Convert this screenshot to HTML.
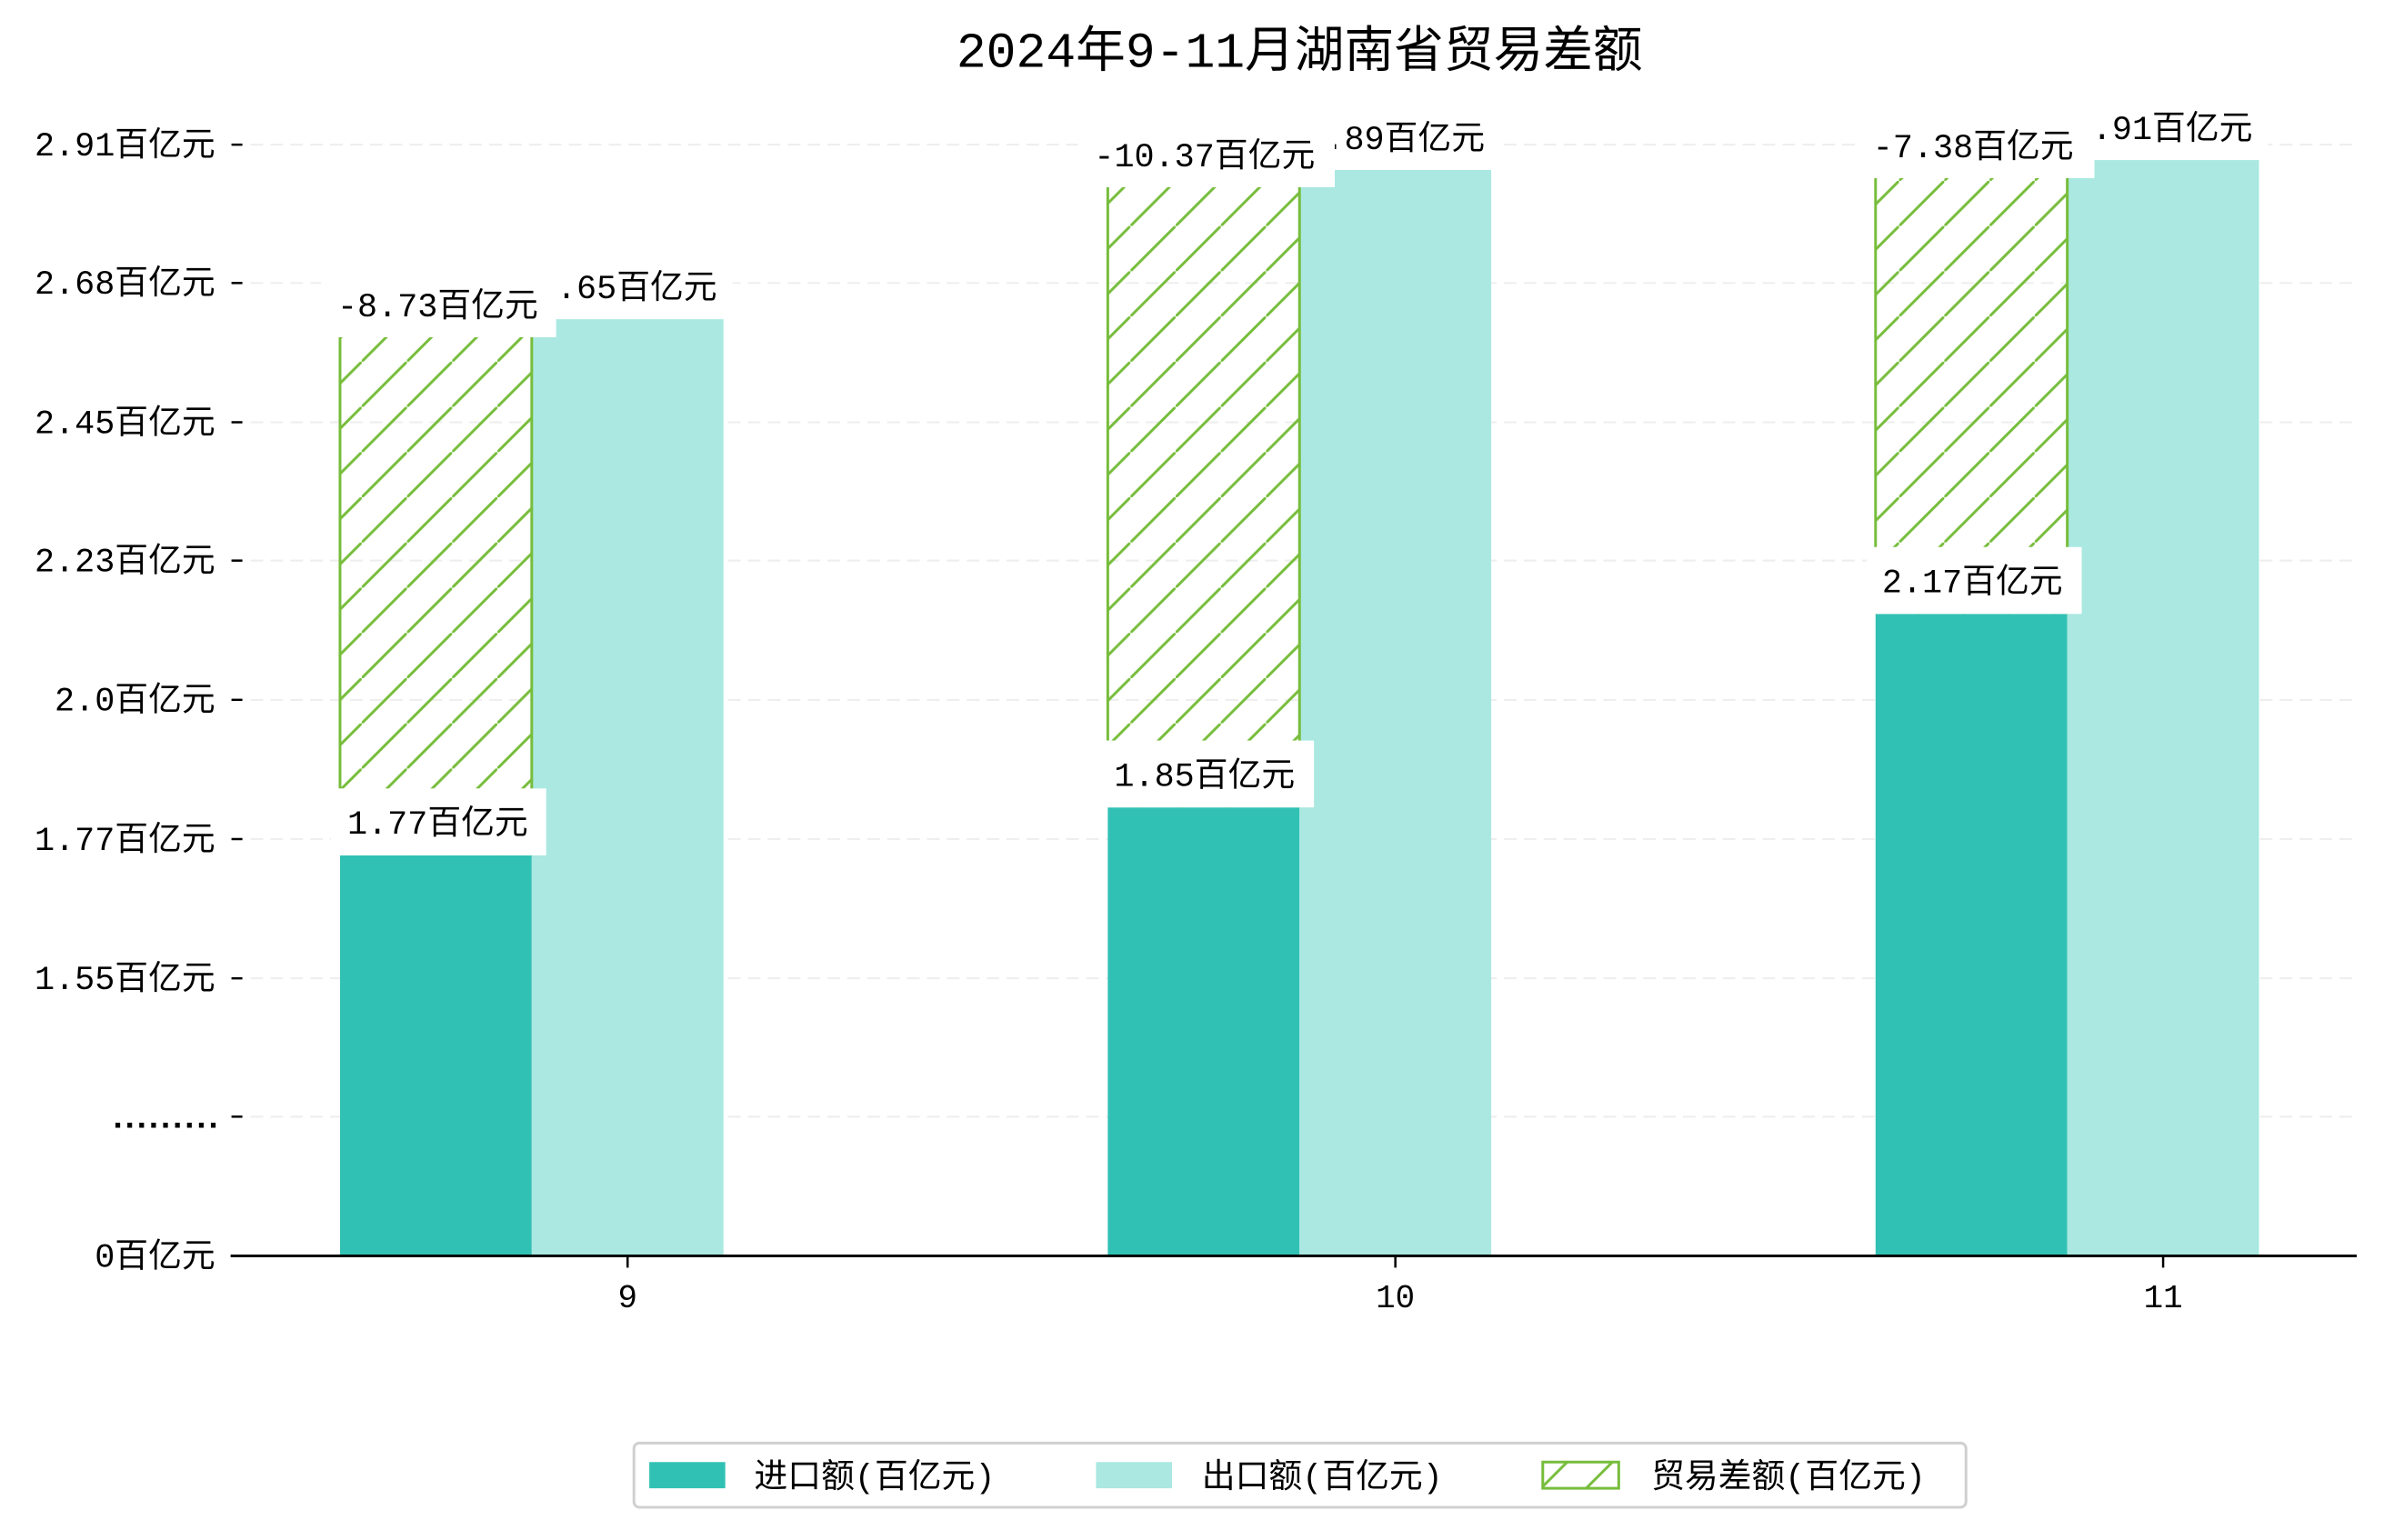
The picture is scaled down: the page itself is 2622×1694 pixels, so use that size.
<!DOCTYPE html>
<html><head><meta charset="utf-8"><style>
html,body{margin:0;padding:0;background:#fff;}
svg text{font-family:"Liberation Mono","WenQuanYi Zen Hei","Noto Sans CJK SC",monospace;fill:#000;}
</style></head><body>
<svg width="2622" height="1689" viewBox="0 0 2622 1689" xmlns="http://www.w3.org/2000/svg">
<defs>
<pattern id="h" patternUnits="userSpaceOnUse" width="50" height="50">
<line x1="-5" y1="55" x2="55" y2="-5" stroke="#77bd3c" stroke-width="3"/>
</pattern>
</defs>
<g transform="scale(0.9946)">
<text x="1437" y="74" font-size="55" text-anchor="middle">2024年9-11月湖南省贸易差额</text>
<g stroke="#eeeeee" stroke-width="2" stroke-dasharray="14,8">
<line x1="255" y1="160" x2="2606" y2="160"/><line x1="255" y1="313" x2="2606" y2="313"/>
<line x1="255" y1="467" x2="2606" y2="467"/><line x1="255" y1="620" x2="2606" y2="620"/>
<line x1="255" y1="774" x2="2606" y2="774"/><line x1="255" y1="928" x2="2606" y2="928"/>
<line x1="255" y1="1082" x2="2606" y2="1082"/><line x1="255" y1="1235" x2="2606" y2="1235"/>
</g>
<g stroke="#000" stroke-width="2.5">
<line x1="256" y1="160" x2="268" y2="160"/><line x1="256" y1="313" x2="268" y2="313"/>
<line x1="256" y1="467" x2="268" y2="467"/><line x1="256" y1="620" x2="268" y2="620"/>
<line x1="256" y1="774" x2="268" y2="774"/><line x1="256" y1="928" x2="268" y2="928"/>
<line x1="256" y1="1082" x2="268" y2="1082"/><line x1="256" y1="1235" x2="268" y2="1235"/>
</g>
<g font-size="37" text-anchor="end">
<text x="238" y="172">2.91百亿元</text><text x="238" y="325">2.68百亿元</text>
<text x="238" y="479">2.45百亿元</text><text x="238" y="632">2.23百亿元</text>
<text x="238" y="786">2.0百亿元</text><text x="238" y="940">1.77百亿元</text>
<text x="238" y="1094">1.55百亿元</text><text x="238" y="1247" font-weight="bold" letter-spacing="-9">.........</text>
<text x="238" y="1401">0百亿元</text>
</g>
<g>
<rect x="376" y="946" width="212" height="443" fill="#31c1b4"/>
<rect x="588" y="353" width="212" height="1036" fill="#aae8e1"/>
<rect x="376" y="373" width="212" height="573" fill="url(#h)"/>
<line x1="376" y1="373" x2="376" y2="946" stroke="#77bd3c" stroke-width="3"/>
<line x1="588" y1="373" x2="588" y2="946" stroke="#77bd3c" stroke-width="3"/>

<rect x="1225" y="893" width="212" height="496" fill="#31c1b4"/>
<rect x="1437" y="188" width="212" height="1201" fill="#aae8e1"/>
<rect x="1225" y="207" width="212" height="686" fill="url(#h)"/>
<line x1="1225" y1="207" x2="1225" y2="893" stroke="#77bd3c" stroke-width="3"/>
<line x1="1437" y1="207" x2="1437" y2="893" stroke="#77bd3c" stroke-width="3"/>

<rect x="2074" y="679" width="212" height="710" fill="#31c1b4"/>
<rect x="2286" y="177" width="212" height="1212" fill="#aae8e1"/>
<rect x="2074" y="197" width="212" height="482" fill="url(#h)"/>
<line x1="2074" y1="197" x2="2074" y2="679" stroke="#77bd3c" stroke-width="3"/>
<line x1="2286" y1="197" x2="2286" y2="679" stroke="#77bd3c" stroke-width="3"/>
</g>
<g font-size="37" text-anchor="middle">
<rect x="576" y="283" width="234" height="70" fill="#fff"/><text x="693" y="330">2.65百亿元</text>
<rect x="355" y="303" width="260" height="70" fill="#fff"/><text x="484" y="350">-8.73百亿元</text>
<rect x="366" y="872" width="238" height="74" fill="#fff"/><text x="484" y="922">1.77百亿元</text>

<rect x="1425" y="118" width="234" height="70" fill="#fff"/><text x="1542" y="165">2.89百亿元</text>
<rect x="1192" y="137" width="284" height="70" fill="#fff"/><text x="1332" y="184">-10.37百亿元</text>
<rect x="1215" y="819" width="238" height="74" fill="#fff"/><text x="1332" y="869">1.85百亿元</text>

<rect x="2274" y="107" width="234" height="70" fill="#fff"/><text x="2391" y="154">2.91百亿元</text>
<rect x="2054" y="127" width="262" height="70" fill="#fff"/><text x="2182" y="174">-7.38百亿元</text>
<rect x="2064" y="605" width="238" height="74" fill="#fff"/><text x="2181" y="655">2.17百亿元</text>
</g>
<line x1="255" y1="1389" x2="2606" y2="1389" stroke="#000" stroke-width="3"/>
<g stroke="#000" stroke-width="2.5">
<line x1="694" y1="1389" x2="694" y2="1402"/><line x1="1543" y1="1389" x2="1543" y2="1402"/><line x1="2392" y1="1389" x2="2392" y2="1402"/>
</g>
<g font-size="36" text-anchor="middle">
<text x="694" y="1446">9</text><text x="1543" y="1446">10</text><text x="2392" y="1446">11</text>
</g>
<rect x="701" y="1596" width="1473" height="71" rx="6" fill="#fff" stroke="#d0d0d0" stroke-width="3"/>
<rect x="718" y="1617" width="84" height="29" fill="#31c1b4"/>
<text x="834" y="1645" font-size="37">进口额(百亿元)</text>
<rect x="1212" y="1617" width="84" height="29" fill="#aae8e1"/>
<text x="1329" y="1645" font-size="37">出口额(百亿元)</text>
<rect x="1706" y="1617" width="84" height="29" fill="url(#h)" stroke="#77bd3c" stroke-width="3"/>
<text x="1826" y="1645" font-size="37">贸易差额(百亿元)</text>
</g>
</svg>
</body></html>
